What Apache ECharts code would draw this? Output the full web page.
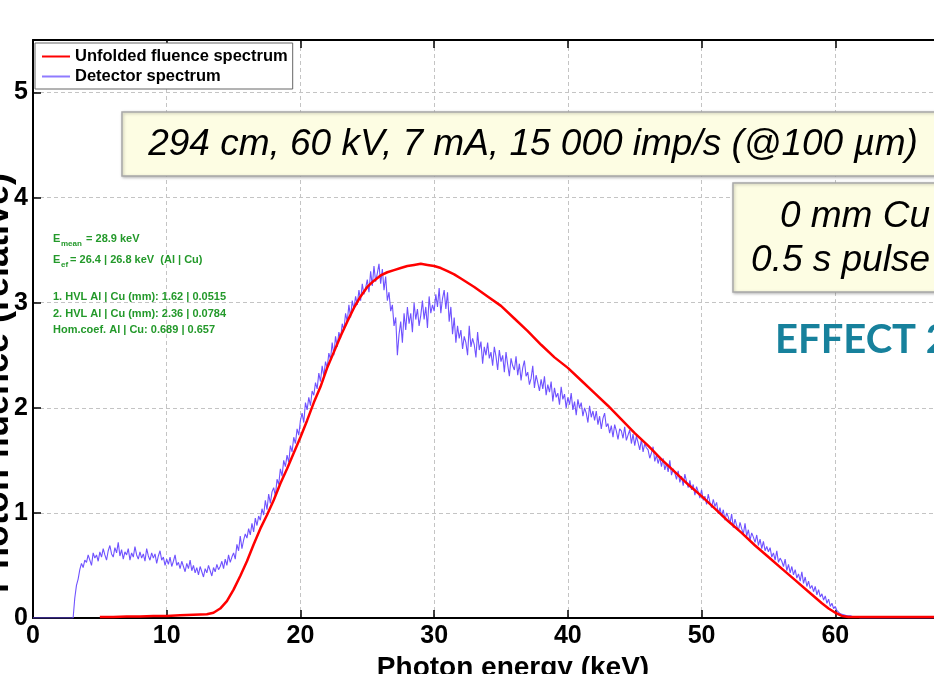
<!DOCTYPE html>
<html><head><meta charset="utf-8">
<script src="https://cdn.jsdelivr.net/npm/echarts@6/dist/echarts.min.js"></script>
<style>html,body{margin:0;padding:0;background:#fff;overflow:hidden}#c{width:934px;height:674px}</style>
</head><body><div id="c"></div>
<script>
// ---- data ----
const xTicks = [0, 10, 20, 30, 40, 50, 60, 70];
const yTicks = [0, 1, 2, 3, 4, 5];
const seriesNames = ['Unfolded fluence spectrum', 'Detector spectrum'];

const unfoldedEnergy = [5,6,7,8,9,10,11,12,13,13.5,14,14.5,15,15.5,16,16.5,17,17.5,18,18.5,19,19.5,20,20.5,21,21.5,22,22.5,23,23.5,24,24.5,25,25.5,26,26.5,27,27.5,28,28.5,29,29.5,30,30.5,31,31.5,32,33,34,35,36,37,38,39,40,41,42,43,44,45,46,47,48,49,50,51,52,53,54,55,56,57,58,59,59.5,60,60.5,61,62,65,70];
const unfoldedValue = [0.01,0.01,0.015,0.015,0.02,0.02,0.025,0.03,0.035,0.05,0.09,0.16,0.27,0.4,0.54,0.7,0.85,0.98,1.12,1.28,1.42,1.57,1.72,1.88,2.05,2.2,2.38,2.53,2.68,2.82,2.95,3.06,3.15,3.21,3.26,3.29,3.31,3.33,3.35,3.36,3.37,3.36,3.35,3.33,3.3,3.27,3.23,3.15,3.06,2.97,2.85,2.73,2.6,2.48,2.38,2.26,2.14,2.02,1.89,1.76,1.64,1.51,1.39,1.27,1.16,1.04,0.92,0.81,0.69,0.58,0.47,0.36,0.25,0.14,0.09,0.05,0.02,0.01,0.01,0.01,0.01];

const detectorStart = 0;      // keV
const detectorStep = 0.125;   // keV per channel
const detectorValue = [
/* 0*/ 0,0,0,0,0,0,0,0,
/* 1*/ 0,0,0,0,0,0,0,0,
/* 2*/ 0,0,0,0,0,0,0,0,
/* 3*/ 0,0.19,0.31,0.37,0.46,0.52,0.48,0.55,
/* 4*/ 0.53,0.6,0.55,0.5,0.62,0.57,0.6,0.54,
/* 5*/ 0.63,0.58,0.66,0.6,0.55,0.64,0.69,0.61,
/* 6*/ 0.58,0.67,0.62,0.72,0.59,0.65,0.56,0.63,
/* 7*/ 0.6,0.66,0.55,0.62,0.58,0.68,0.6,0.56,
/* 8*/ 0.63,0.57,0.61,0.54,0.66,0.59,0.55,0.62,
/* 9*/ 0.57,0.61,0.52,0.59,0.64,0.55,0.58,0.5,
/*10*/ 0.56,0.51,0.58,0.49,0.54,0.6,0.5,0.53,
/*11*/ 0.47,0.54,0.49,0.44,0.52,0.47,0.55,0.45,
/*12*/ 0.5,0.43,0.48,0.41,0.49,0.44,0.39,0.47,
/*13*/ 0.43,0.5,0.45,0.4,0.48,0.44,0.51,0.46,
/*14*/ 0.49,0.54,0.47,0.56,0.5,0.6,0.53,0.58,
/*15*/ 0.62,0.56,0.7,0.64,0.78,0.66,0.74,0.8,
/*16*/ 0.76,0.85,0.79,0.9,0.82,0.95,0.88,0.97,
/*17*/ 0.93,1.04,0.98,1.12,1.03,1.18,1.09,1.2,
/*18*/ 1.24,1.16,1.32,1.27,1.42,1.35,1.5,1.44,
/*19*/ 1.55,1.48,1.64,1.58,1.72,1.66,1.8,1.74,
/*20*/ 1.88,1.95,1.86,2.05,1.98,2.1,2.02,2.16,
/*21*/ 2.12,2.24,2.18,2.33,2.25,2.4,2.3,2.44,
/*22*/ 2.38,2.52,2.46,2.62,2.5,2.68,2.58,2.72,
/*23*/ 2.66,2.8,2.74,2.9,2.82,2.98,2.86,3.02,
/*24*/ 2.94,3.06,2.98,3.12,3.02,3.18,3.08,3.14,
/*25*/ 3.22,3.1,3.3,3.16,3.35,3.2,3.28,3.37,
/*26*/ 3.18,3.32,3.12,3.25,3.02,3.1,2.92,2.98,
/*27*/ 2.78,2.86,2.5,2.7,2.82,2.62,2.9,2.74,
/*28*/ 2.96,2.8,2.9,2.72,3.0,2.84,2.94,2.78,
/*29*/ 2.88,3.02,2.84,2.96,2.76,3.06,2.9,2.98,
/*30*/ 2.92,3.08,2.96,3.14,2.9,3.04,3.12,2.94,
/*31*/ 3.1,2.82,2.96,2.7,2.86,2.62,2.78,2.66,
/*32*/ 2.74,2.56,2.68,2.62,2.5,2.78,2.58,2.66,
/*33*/ 2.6,2.48,2.72,2.55,2.63,2.42,2.58,2.5,
/*34*/ 2.62,2.47,2.53,2.4,2.58,2.49,2.36,2.55,
/*35*/ 2.44,2.5,2.34,2.53,2.41,2.3,2.47,2.4,
/*36*/ 2.36,2.49,2.31,2.42,2.26,2.38,2.45,2.3,
/*37*/ 2.34,2.22,2.28,2.4,2.19,2.31,2.24,2.16,
/*38*/ 2.27,2.18,2.3,2.12,2.22,2.15,2.25,2.06,
/*39*/ 2.19,2.1,2.14,2.03,2.2,2.08,2.13,2.0,
/*40*/ 2.1,2.03,2.14,1.98,2.06,1.93,2.08,2.0,
/*41*/ 2.05,1.92,2.0,1.95,1.86,2.02,1.91,1.97,
/*42*/ 1.88,1.97,1.84,1.92,1.8,1.9,1.95,1.82,
/*43*/ 1.85,1.76,1.83,1.72,1.84,1.78,1.7,1.8,
/*44*/ 1.78,1.71,1.82,1.69,1.74,1.79,1.66,1.75,
/*45*/ 1.64,1.73,1.67,1.6,1.7,1.58,1.66,1.62,
/*46*/ 1.6,1.52,1.57,1.63,1.49,1.55,1.47,1.53,
/*47*/ 1.44,1.52,1.41,1.47,1.39,1.5,1.36,1.42,
/*48*/ 1.38,1.32,1.4,1.29,1.35,1.26,1.37,1.3,
/*49*/ 1.24,1.31,1.22,1.27,1.17,1.25,1.2,1.14,
/*50*/ 1.22,1.12,1.16,1.08,1.18,1.1,1.05,1.13,
/*51*/ 1.06,1.1,0.99,1.05,0.97,1.03,0.93,1.0,
/*52*/ 0.96,0.9,0.99,0.86,0.94,0.88,0.83,0.91,
/*53*/ 0.85,0.8,0.9,0.78,0.84,0.74,0.81,0.77,
/*54*/ 0.72,0.79,0.69,0.75,0.66,0.73,0.64,0.68,
/*55*/ 0.63,0.67,0.58,0.62,0.55,0.64,0.53,0.57,
/*56*/ 0.54,0.49,0.56,0.45,0.51,0.43,0.49,0.41,
/*57*/ 0.46,0.38,0.42,0.35,0.44,0.33,0.39,0.3,
/*58*/ 0.35,0.28,0.31,0.25,0.3,0.22,0.27,0.2,
/*59*/ 0.23,0.17,0.21,0.14,0.18,0.11,0.14,0.09,
/*60*/ 0.11,0.07,0.08,0.04,0.05,0.03,0.04,0.02,
/*61*/ 0.03,0.02,0.02,0.01,0.02,0.01,0.01,0,
/*62*/ 0,0,0,0,0,0,0,0,
/*63*/ 0,0,0,0,0,0,0,0,
/*64*/ 0,0,0,0,0,0,0,0,
/*65*/ 0,0,0,0,0,0,0,0,
/*66*/ 0,0,0,0,0,0,0,0,
/*67*/ 0,0,0,0,0,0,0,0,
/*68*/ 0,0,0,0,0,0,0,0,
/*69*/ 0,0,0,0,0,0,0,0,
/*70*/ 0
];

const titleText = '294 cm, 60 kV, 7 mA, 15 000 imp/s (@100 µm)';
const filterLines = ['0 mm Cu', '0.5 s pulse'];
const effectText = 'EFFECT 2';
const infoMean = ['E', 'mean', ' = 28.9 keV'];
const infoEf = ['E', 'ef', ' = 26.4 | 26.8 keV  (Al | Cu)'];
const infoLines = ['1. HVL Al | Cu (mm): 1.62 | 0.0515', '2. HVL Al | Cu (mm): 2.36 | 0.0784', 'Hom.coef. Al | Cu: 0.689 | 0.657'];
const xName = 'Photon energy (keV)';
const yName = 'Photon fluence (relative)';

// ---- chart ----
const unfoldedData = unfoldedEnergy.map((e, i) => [e, unfoldedValue[i]]);
const detectorData = detectorValue.map((v, i) => [detectorStart + i * detectorStep, v]);

const F = 'Liberation Sans, Arial, sans-serif';
const green = '#23992a';
const chart = echarts.init(document.getElementById('c'), null, {renderer: 'canvas'});

const gridLine = {show: true, lineStyle: {color: '#c4c4c4', type: [4, 3], width: 1}};
const option = {
  animation: false,
  backgroundColor: '#fff',
  grid: {left: 33, right: -35, top: 40, bottom: 56, outerBoundsMode: 'none', containLabel: false},
  legend: {
    orient: 'vertical', left: 35, top: 43,
    data: seriesNames.map(n => ({name: n, icon: 'rect'})),
    itemWidth: 28, itemHeight: 2, itemGap: 3,
    padding: [5, 5, 4, 7],
    backgroundColor: '#fff', borderColor: '#666', borderWidth: 1,
    textStyle: {fontFamily: F, fontWeight: 'bold', fontSize: 16.5, color: '#000', lineHeight: 17},
    selectedMode: false
  },
  xAxis: [{
    type: 'value', min: 0, max: 70, interval: 10, position: 'bottom',
    name: xName, nameLocation: 'middle', nameGap: 31,
    nameTextStyle: {fontFamily: F, fontWeight: 'bold', fontSize: 28, color: '#000', padding: [0, 0, 0, 24]},
    axisLine: {onZero: false, lineStyle: {color: '#000', width: 2}},
    axisTick: {inside: true, length: 8, lineStyle: {color: '#000', width: 1.5}},
    axisLabel: {fontFamily: F, fontWeight: 'bold', fontSize: 25, color: '#000', margin: 6},
    splitLine: gridLine
  }, {
    type: 'value', min: 0, max: 70, interval: 10, position: 'top',
    axisLine: {onZero: false, lineStyle: {color: '#000', width: 2}},
    axisTick: {inside: true, length: 8, lineStyle: {color: '#000', width: 1.5}},
    axisLabel: {show: false}, splitLine: {show: false}
  }],
  yAxis: {
    type: 'value', min: 0, max: 5.5, interval: 1,
    axisLine: {onZero: false, lineStyle: {color: '#000', width: 2}},
    axisTick: {inside: true, length: 8, lineStyle: {color: '#000', width: 1.5}},
    axisLabel: {fontFamily: F, fontWeight: 'bold', fontSize: 25, color: '#000', margin: 5,
      formatter: v => (yTicks.indexOf(v) >= 0 ? String(v) : '')},
    splitLine: gridLine
  },
  series: [{
    name: seriesNames[1], type: 'line', data: detectorData, showSymbol: false, symbol: 'none',
    lineStyle: {color: '#6f52ff', width: 1.1}, itemStyle: {color: '#8f7bff'}, z: 2
  }, {
    name: seriesNames[0], type: 'line', data: unfoldedData, showSymbol: false, symbol: 'none',
    lineStyle: {color: '#ff0000', width: 2.5}, itemStyle: {color: '#ff0000'}, z: 3
  }],
  graphic: [
    {type: 'rect', shape: {x: 122, y: 112, width: 840, height: 64},
     style: {fill: '#fdfde3', stroke: '#a8a8a8', lineWidth: 1.5, shadowBlur: 3, shadowColor: 'rgba(0,0,0,0.25)', shadowOffsetX: 1, shadowOffsetY: 1}, z: 10},
    {type: 'text', x: 533, y: 145, style: {text: titleText, font: 'italic 37px ' + F, fill: '#000', textAlign: 'center', textVerticalAlign: 'middle'}, z: 11},
    {type: 'rect', shape: {x: 733, y: 183, width: 260, height: 109},
     style: {fill: '#fdfde3', stroke: '#a8a8a8', lineWidth: 1.5, shadowBlur: 3, shadowColor: 'rgba(0,0,0,0.25)', shadowOffsetX: 1, shadowOffsetY: 1}, z: 10},
    {type: 'text', x: 930, y: 217, style: {text: filterLines[0], font: 'italic 37px ' + F, fill: '#000', textAlign: 'right', textVerticalAlign: 'middle'}, z: 11},
    {type: 'text', x: 930, y: 261, style: {text: filterLines[1], font: 'italic 37px ' + F, fill: '#000', textAlign: 'right', textVerticalAlign: 'middle'}, z: 11},
    {type: 'text', x: 775, y: 340, style: {text: effectText, font: 'bold 40px Lato, "Open Sans", sans-serif', fill: '#17819c', textAlign: 'left', textVerticalAlign: 'middle'}, z: 11},
    // green annotations
    {type: 'text', x: 53, y: 239, style: {text: infoMean[0], font: 'bold 11px ' + F, fill: green, textVerticalAlign: 'middle'}, z: 11},
    {type: 'text', x: 61, y: 244, style: {text: infoMean[1], font: 'bold 8px ' + F, fill: green, textVerticalAlign: 'middle'}, z: 11},
    {type: 'text', x: 83, y: 239, style: {text: infoMean[2], font: 'bold 11px ' + F, fill: green, textVerticalAlign: 'middle'}, z: 11},
    {type: 'text', x: 53, y: 260, style: {text: infoEf[0], font: 'bold 11px ' + F, fill: green, textVerticalAlign: 'middle'}, z: 11},
    {type: 'text', x: 61, y: 265, style: {text: infoEf[1], font: 'bold 8px ' + F, fill: green, textVerticalAlign: 'middle'}, z: 11},
    {type: 'text', x: 67, y: 260, style: {text: infoEf[2], font: 'bold 11px ' + F, fill: green, textVerticalAlign: 'middle'}, z: 11},
    {type: 'text', x: 53, y: 297, style: {text: infoLines[0], font: 'bold 11px ' + F, fill: green, textVerticalAlign: 'middle'}, z: 11},
    {type: 'text', x: 53, y: 314, style: {text: infoLines[1], font: 'bold 11px ' + F, fill: green, textVerticalAlign: 'middle'}, z: 11},
    {type: 'text', x: 53, y: 330, style: {text: infoLines[2], font: 'bold 11px ' + F, fill: green, textVerticalAlign: 'middle'}, z: 11},
    // y-axis title (rotated, partly off-canvas like the reference)
    {type: 'text', x: -2, y: 383, rotation: Math.PI / 2,
     style: {text: yName, font: 'bold 36px ' + F, fill: '#000', textAlign: 'center', textVerticalAlign: 'middle'}, z: 11}
  ]
};
chart.setOption(option);
</script>
</body></html>
